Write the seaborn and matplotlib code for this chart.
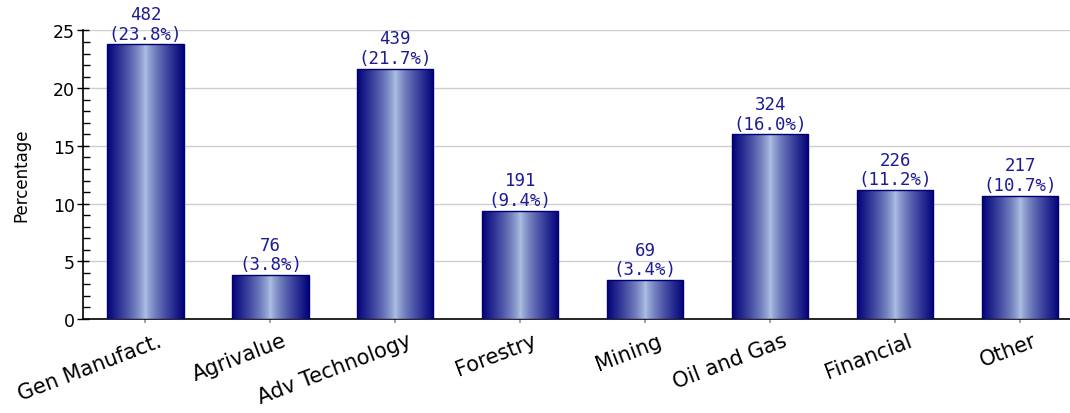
import numpy as np
import pandas as pd
import matplotlib
matplotlib.use("Agg")
import matplotlib.pyplot as plt
from matplotlib.colors import to_rgb
from matplotlib.ticker import MultipleLocator
from matplotlib.transforms import ScaledTranslation
import seaborn as sns

# Sector breakdown: number of firms and share of total
sectors = ["Gen Manufact.", "Agrivalue", "Adv Technology", "Forestry",
           "Mining", "Oil and Gas", "Financial", "Other"]
counts = [482, 76, 439, 191, 69, 324, 226, 217]
percents = [23.8, 3.8, 21.7, 9.4, 3.4, 16.0, 11.2, 10.7]

df = pd.DataFrame({"sector": sectors, "percent": percents, "count": counts})

sns.set_theme(style="white")
plt.rcParams["font.family"] = ["DejaVu Sans"]

fig = plt.figure(figsize=(10.7, 4.14), dpi=100)
ax = fig.add_axes([0.0776, 0.227, 0.9224, 0.697])

sns.barplot(data=df, x="sector", y="percent", ax=ax, width=0.61,
            color="#000080", saturation=1, zorder=3)

# Horizontal gradient: dark navy at the edges, pale steel blue in the middle
dark = np.array(to_rgb("#03037a"))
light = np.array(to_rgb("#b0c4e4"))
xs = np.linspace(0, 1, 200)
t = (np.abs(xs - 0.5) * 2) ** 0.75
grad = (light[None, :] * (1 - t)[:, None] + dark[None, :] * t[:, None])[None, :, :]

for patch in ax.patches:
    x0, y0 = patch.get_x(), patch.get_y()
    w, h = patch.get_width(), patch.get_height()
    img = ax.imshow(grad, extent=[x0, x0 + w, y0, y0 + h], aspect="auto",
                    zorder=3, interpolation="bicubic")
    img.set_clip_path(patch)
    patch.set_facecolor("none")
    patch.set_edgecolor("#000070")
    patch.set_linewidth(1.0)
    patch.set_zorder(4)

# Value labels: count on top, share in parentheses below
for i, (c, p) in enumerate(zip(counts, percents)):
    ax.text(i, p + 0.15, f"{c}\n({p:.1f}%)", ha="center", va="bottom",
            family="DejaVu Sans Mono", fontsize=12.5, color="#1c1c96",
            linespacing=1.1, clip_on=False, zorder=5)

ax.set_xlim(-0.5, 7.4)
ax.set_ylim(0, 25)
ax.yaxis.set_major_locator(MultipleLocator(5))
ax.yaxis.set_minor_locator(MultipleLocator(1))
ax.grid(axis="y", which="major", color="#cfcfcf", linewidth=1.0, zorder=0)
ax.set_axisbelow(True)

for s in ["top", "right"]:
    ax.spines[s].set_visible(False)
for s in ["left", "bottom"]:
    ax.spines[s].set_color("black")
    ax.spines[s].set_linewidth(1.2)

ax.tick_params(axis="y", which="major", direction="inout", length=8,
               width=1, color="black", labelsize=12.5, pad=2, left=True)
ax.tick_params(axis="y", which="minor", direction="in", length=5,
               width=1, color="black", left=True)
ax.tick_params(axis="x", which="major", direction="out", length=3,
               color="#999999", labelsize=15, pad=5, bottom=True)

shift = ScaledTranslation(12 / 100, 0, fig.dpi_scale_trans)
for lbl in ax.get_xticklabels():
    lbl.set_rotation(21)
    lbl.set_ha("right")
    lbl.set_rotation_mode("anchor")
    lbl.set_color("black")
    lbl.set_transform(lbl.get_transform() + shift)
for lbl in ax.get_yticklabels():
    lbl.set_color("black")

ax.set_xlabel("")
ax.set_ylabel("Percentage", fontsize=12, color="black", labelpad=16)

fig.savefig("out.png", dpi=100)
